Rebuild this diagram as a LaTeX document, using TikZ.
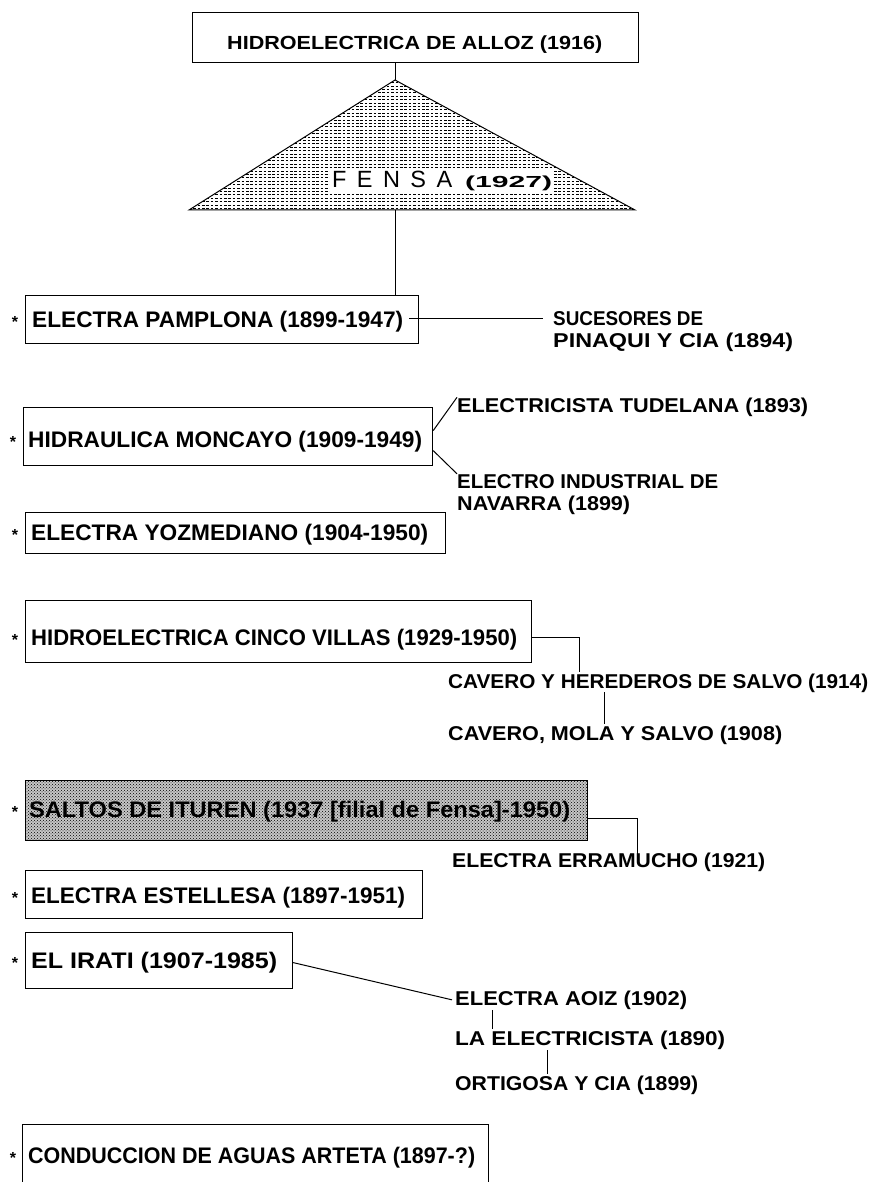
\documentclass[tikz,border=0pt]{standalone}
\usepackage{fontspec}
\setmainfont{Liberation Sans}
\usetikzlibrary{patterns}
\newcommand\fw[2]{\resizebox{#1pt}{\height}{#2}}
\tikzset{
  box/.style={draw=black, line width=1.2pt, fill=white, inner sep=0pt, anchor=north west},
  btxt/.style={inner sep=0pt, anchor=base west, font=\bfseries\fontsize{22.5}{24}\selectfont},
  stxt/.style={inner sep=0pt, anchor=base west, font=\bfseries\fontsize{20}{22}\selectfont},
  ttxt/.style={inner sep=0pt, anchor=base west, font=\bfseries\fontsize{19}{21}\selectfont},
  starmark/.style={inner sep=0pt, anchor=base, font=\bfseries\fontsize{16}{18}\selectfont},
  conn/.style={draw=black, line width=1pt},
  hatch/.style={draw=black, line width=0.6pt, dash pattern=on 2.6pt off 1.8pt}
}
\begin{document}
\begin{tikzpicture}[x=1pt,y=-1pt]
\useasboundingbox (0,0) rectangle (874,1182);
\clip (0,0) rectangle (874,1182);
\fill[white] (0,0) rectangle (874,1182);

% top box
\node[box, minimum width=446pt, minimum height=50pt] (alloz) at (192,12) {};
\node[ttxt] (allozt) at (227,50) {\fw{375}{HIDROELECTRICA DE ALLOZ (1916)}};

% triangle FENSA
\coordinate (apex) at (395,80);
\coordinate (bl) at (189,210);
\coordinate (br) at (635,210);
\coordinate (base) at (395,210);
\begin{scope}
  \clip (apex) -- (bl) -- (br) -- cycle;
  \foreach \yy in {82.5,85.9,...,210} \draw[hatch] (180,\yy) -- (650,\yy);
\end{scope}
\draw[line width=1pt] (apex) -- (bl) -- (br) -- cycle;
\node[fill=white, inner sep=2pt, anchor=base west] (fensa) at (330,188)
  {\fontsize{23.5}{25}\selectfont\makebox[120pt][s]{F\hfill E\hfill N\hfill S\hfill A}\hspace{13pt}{\bfseries\fontsize{16}{18}\selectfont\fw{87}{(1927)}}};
\draw[conn] (alloz.south -| apex) -- (apex);

% Electra Pamplona
\node[box, minimum width=393pt, minimum height=48pt] (pamp) at (25,295) {};
\node[starmark] (s1) at (15,327) {*};
\node[btxt] (pampt) at (32,327) {\fw{371}{ELECTRA PAMPLONA (1899-1947)}};
\draw[conn] (base) -- (pamp.north -| base);
\node[stxt] (suc1) at (553,325) {\fw{150}{SUCESORES DE}};
\node[stxt] (suc2) at (553,347) {\fw{240}{PINAQUI Y CIA (1894)}};
\draw[conn] ([xshift=-10pt]suc1.west -| pamp.east) -- ([xshift=-10pt]suc1.west);

% Hidraulica Moncayo
\node[box, minimum width=409pt, minimum height=58pt] (monc) at (23,407) {};
\node[starmark] (s2) at (13,447) {*};
\node[btxt] (monct) at (28,447) {\fw{394}{HIDRAULICA MONCAYO (1909-1949)}};
\node[stxt] (tud) at (457,412) {\fw{351}{ELECTRICISTA TUDELANA (1893)}};
\node[stxt] (ind1) at (457,488) {\fw{261}{ELECTRO INDUSTRIAL DE}};
\node[stxt] (ind2) at (457,510) {\fw{173}{NAVARRA (1899)}};
\draw[conn] ([yshift=6pt]monc.east) -- (tud.north west);
\draw[conn] ([yshift=-14pt]monc.east) -- (ind1.north west);

% Electra Yozmediano
\node[box, minimum width=420pt, minimum height=41pt] (yoz) at (25,512) {};
\node[starmark] (s3) at (15,540) {*};
\node[btxt] (yozt) at (31,540) {\fw{397}{ELECTRA YOZMEDIANO (1904-1950)}};

% Hidroelectrica Cinco Villas
\node[box, minimum width=506pt, minimum height=62pt] (cinco) at (25,600) {};
\node[starmark] (s4) at (15,645) {*};
\node[btxt] (cincot) at (31,645) {\fw{486}{HIDROELECTRICA CINCO VILLAS (1929-1950)}};
\node[stxt] (cav1) at (448,688) {\fw{420}{CAVERO Y HEREDEROS DE SALVO (1914)}};
\node[stxt] (cav2) at (448,740) {\fw{334}{CAVERO, MOLA Y SALVO (1908)}};
\draw[conn] ([yshift=-6pt]cinco.east) -| ([xshift=131pt,yshift=1pt]cav1.north west);
\draw[conn] ([xshift=156pt]cav1.south west) -- ([xshift=156pt,yshift=1pt]cav2.north west);

% Saltos de Ituren
\node[box, minimum width=562pt, minimum height=60pt, preaction={fill=black!22}, pattern=crosshatch dots, pattern color=black] (salt) at (25,780) {};
\node[starmark] (s5) at (15,817) {*};
\node[btxt] (saltt) at (29,817) {\fw{541}{SALTOS DE ITUREN (1937 [filial de Fensa]-1950)}};
\node[stxt] (erra) at (452,867) {\fw{313}{ELECTRA ERRAMUCHO (1921)}};
\draw[conn] ([yshift=-8pt]salt.east) -| ([xshift=185pt,yshift=-4pt]erra.north west);

% Electra Estellesa
\node[box, minimum width=397pt, minimum height=48pt] (est) at (25,870) {};
\node[starmark] (s6) at (15,903) {*};
\node[btxt] (estt) at (31,903) {\fw{374}{ELECTRA ESTELLESA (1897-1951)}};

% El Irati
\node[box, minimum width=267pt, minimum height=56pt] (irati) at (25,932) {};
\node[starmark] (s7) at (15,968) {*};
\node[btxt] (iratit) at (31,968) {\fw{246}{EL IRATI (1907-1985)}};
\node[stxt] (aoiz) at (455,1005) {\fw{232}{ELECTRA AOIZ (1902)}};
\node[stxt] (laelec) at (455,1045) {\fw{270}{LA ELECTRICISTA (1890)}};
\node[stxt] (ort) at (455,1090) {\fw{243}{ORTIGOSA Y CIA (1899)}};
\draw[conn] ([yshift=-2pt]irati.east) -- ([xshift=-3pt]aoiz.west);
\draw[conn] ([xshift=37pt,yshift=-1pt]aoiz.south west) -- ([xshift=37pt,yshift=1pt]laelec.north west);
\draw[conn] ([xshift=92pt,yshift=-1pt]laelec.south west) -- ([xshift=92pt,yshift=1pt]ort.north west);

% Conduccion de Aguas Arteta
\node[box, minimum width=466pt, minimum height=80pt] (cond) at (22,1124) {};
\node[starmark] (s8) at (13,1163) {*};
\node[btxt] (condt) at (28,1163) {\fw{447}{CONDUCCION DE AGUAS ARTETA (1897-?)}};
\end{tikzpicture}
\end{document}
